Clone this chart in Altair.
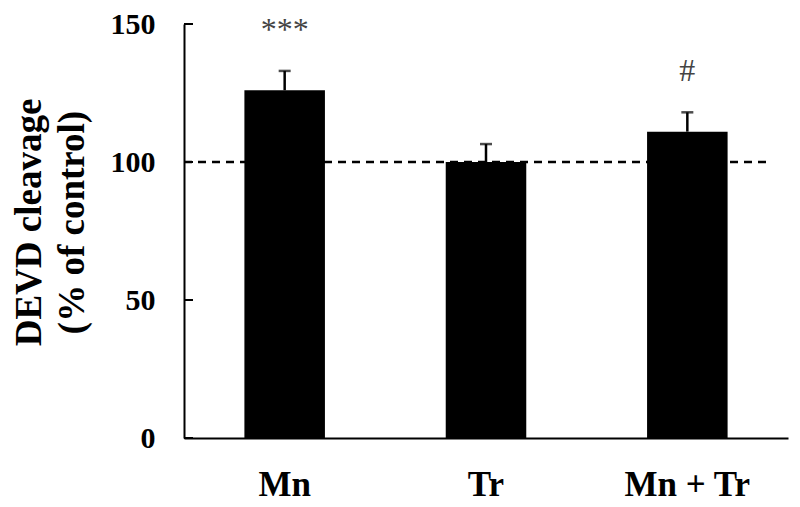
import altair as alt
import pandas as pd

groups = ["Mn", "Tr", "Mn + Tr"]
means = [126, 100, 111]
sems = [7, 6.5, 7]
marks = ["***", "", "#"]
y_ticks = [0, 50, 100, 150]
reference = [100]

df = pd.DataFrame({"group": groups, "mean": means, "sem": sems, "mark": marks})
df["top"] = df["mean"] + df["sem"]
df["anno"] = df["top"] + 15

FONT = "Liberation Serif"

xscale = alt.Scale(domain=groups, paddingInner=0.6, paddingOuter=0.3)
yscale = alt.Scale(domain=[0, 150], nice=False, zero=True)

xaxis = alt.Axis(title=None, labelAngle=0, labelFont=FONT, labelFontSize=35,
                 labelFontWeight="bold", labelColor="black", labelPadding=29,
                 ticks=False, tickSize=0, domainColor="black", domainWidth=2)
yaxis = alt.Axis(values=y_ticks, title=["DEVD cleavage", "(% of control)"],
                 titleFont=FONT, titleFontSize=37, titleFontWeight="bold",
                 titleColor="black", titleLineHeight=43, titleBaseline="alphabetic",
                 titleAngle=-90, titleX=-144, titleY=198, titleAlign="center",
                 labelFont=FONT, labelFontSize=30, labelFontWeight="bold",
                 labelColor="black", labelPadding=29, ticks=False, tickSize=0,
                 grid=False, domainColor="black", domainWidth=2)


def X():
    return alt.X("group:N", scale=xscale, sort=groups, axis=xaxis)


def Y(field):
    return alt.Y(field, scale=yscale, axis=yaxis)


base = alt.Chart(df)

ref = alt.Chart(pd.DataFrame({"ref": reference})).mark_rule(
    color="black", strokeDash=[8, 6], strokeWidth=2.5
).encode(y=Y("ref:Q"), x=alt.value(0), x2=alt.value(583))

bars = base.mark_bar(color="black").encode(x=X(), y=Y("mean:Q"))

err = base.mark_rule(color="black", strokeWidth=2.5).encode(
    x=X(), y=Y("mean:Q"), y2="top:Q")

cap = base.mark_tick(color="black", size=12, thickness=2.5).encode(
    x=X(), y=Y("top:Q"))

anno = base.mark_text(font=FONT, fontSize=32, color="#444", baseline="middle").encode(
    x=X(), y=Y("anno:Q"), text="mark:N")

ticks_in = alt.Chart(pd.DataFrame({"t": y_ticks})).mark_rule(color="black", strokeWidth=2).encode(
    y=Y("t:Q"), x=alt.value(0), x2=alt.value(9))

chart = alt.layer(ref, bars, err, cap, anno, ticks_in).properties(
    width=604, height=414,
    autosize=alt.AutoSizeParams(type="none"),
    padding={"left": 176, "top": 16, "right": 4, "bottom": 68},
).configure_view(stroke=None)

chart.save("out.html", embed_options={"renderer": "svg", "actions": False})
